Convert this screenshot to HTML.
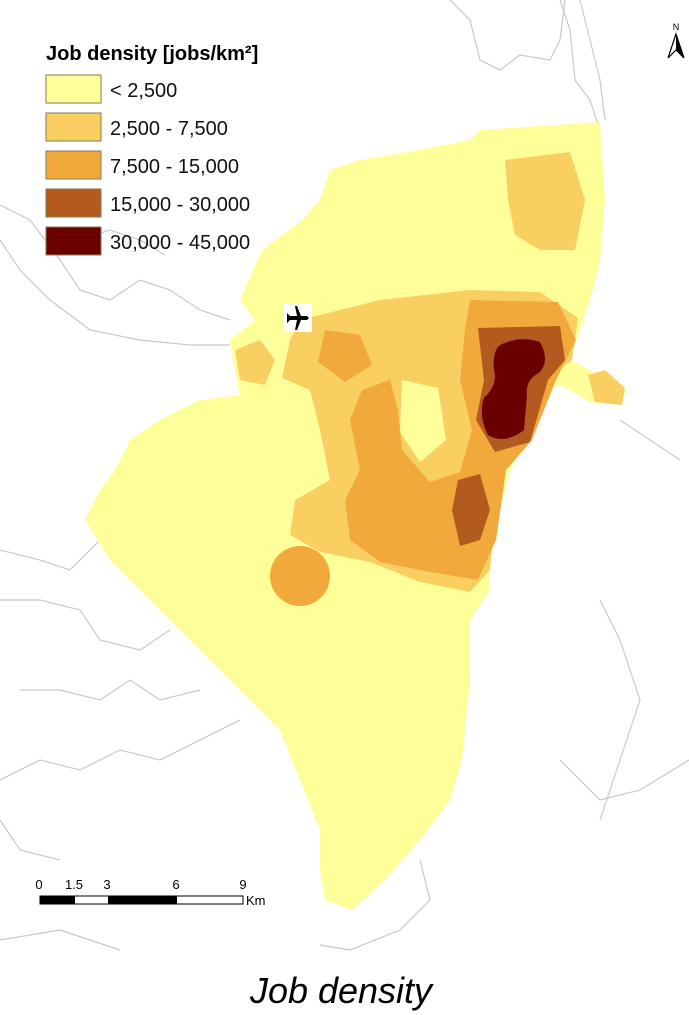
<!DOCTYPE html>
<html><head><meta charset="utf-8"><style>
body{margin:0;background:#fff;}
svg{display:block;font-family:"Liberation Sans",Arial,sans-serif;}
</style></head><body>
<svg width="689" height="1015" viewBox="0 0 689 1015">
<g fill="none" stroke="#c8c8c8" stroke-width="1.2">
<polyline points="450,0 470,20 480,60 500,70 520,55 550,60 560,40 565,0"/>
<polyline points="560,0 570,30 575,80 590,100 600,130"/>
<polyline points="580,0 590,40 600,80 605,120"/>
<polyline points="0,205 30,220 60,260 80,290 110,300 140,280 170,290 200,310 230,320"/>
<polyline points="0,240 20,270 50,300 90,330 140,340 190,345 230,345"/>
<polyline points="80,240 110,230 140,240 165,255"/>
<polyline points="0,550 40,560 70,570 100,540"/>
<polyline points="0,600 40,600 80,610 100,640 140,650 170,630"/>
<polyline points="20,690 60,690 100,700 130,680 160,700 200,690"/>
<polyline points="0,780 40,760 80,770 120,750 160,760 200,740 240,720"/>
<polyline points="0,820 20,850 60,860"/>
<polyline points="620,420 650,440 680,460"/>
<polyline points="600,600 620,640 640,700 620,760 600,820"/>
<polyline points="560,760 600,800 640,790 689,760"/>
<polyline points="420,860 430,900 400,930 350,950 320,945"/>
<polyline points="0,940 60,930 120,950"/>
</g>
<g>
<polygon fill="#ffff99" points="480,130 600,122 605,200 600,260 590,300 580,330 570,360 590,370 600,378 625,390 622,405 590,402 560,385 540,392 525,440 510,470 500,510 490,560 490,590 470,620 470,680 462,760 450,800 420,840 385,880 352,910 325,900 320,870 320,830 300,780 280,730 240,690 190,640 150,600 110,560 85,520 100,490 115,470 130,440 160,420 200,400 240,395 235,370 230,340 255,320 240,300 262,250 300,222 320,200 330,170 360,160 420,150 470,140"/>
<polygon fill="#f9cf62" points="505,160 570,152 585,200 575,250 540,250 515,235 508,200"/>
<polygon fill="#f9cf62" points="235,350 260,340 275,360 265,385 240,380"/>
<polygon fill="#f9cf62" points="588,375 605,370 625,388 622,405 595,402"/>
<path fill="#f9cf62" fill-rule="evenodd" d="M300,320 L380,300 L470,290 L540,292 L578,318 L572,360 L545,380 L530,440 L505,470 L495,520 L490,570 L470,592 L420,582 L370,562 L320,552 L290,535 L295,500 L330,480 L320,430 L310,390 L282,378 L290,340 Z M402,380 L438,388 L446,440 L420,462 L400,432 Z"/>
<polygon fill="#f2a93c" points="325,330 360,335 372,365 345,382 318,362"/>
<polygon fill="#f2a93c" points="470,300 558,302 576,340 556,380 532,440 506,470 496,540 478,580 430,572 380,562 350,540 345,500 360,470 350,420 362,390 390,380 398,410 402,450 430,482 460,472 472,430 460,380 465,330"/>
<circle fill="#f2a93c" cx="300" cy="576" r="30"/>
<polygon fill="#b35a1f" points="478,328 560,326 565,360 548,380 530,442 495,452 476,420 484,380"/>
<polygon fill="#b35a1f" points="458,480 480,474 490,510 480,540 460,546 452,510"/>
<path fill="#6b0000" d="M500,345 Q520,335 540,342 Q550,360 540,372 Q525,380 527,395 L524,430 Q505,445 488,435 Q478,415 484,398 Q498,385 494,370 Q492,352 500,345 Z"/>
</g>
<g>
<rect x="284" y="304" width="28" height="28" fill="#fff"/>
<path d="M298,307 L300,309 L300,315 L310,319 L310,321 L300,319 L300,326 L303,329 L293,329 L296,326 L296,319 L286,321 L286,319 L296,315 L296,309 Z" fill="#000" transform="rotate(90 298 318)"/>
</g>
<g>
<text x="676" y="30" font-size="9" text-anchor="middle">N</text>
<polygon points="676,34 668,58 676,50 684,58" fill="#fff" stroke="#000" stroke-width="1.2"/>
<polygon points="676,34 676,50 684,58" fill="#000"/>
</g>
<g>
<text x="46" y="60" font-size="20" font-weight="bold">Job density [jobs/km²]</text>
<g stroke="#8a7a50" stroke-width="1">
<rect x="46" y="75" width="55" height="28" fill="#ffff99"/>
<rect x="46" y="113" width="55" height="28" fill="#f9cf62"/>
<rect x="46" y="151" width="55" height="28" fill="#f2a93c"/>
<rect x="46" y="189" width="55" height="28" fill="#b35a1f"/>
<rect x="46" y="227" width="55" height="28" fill="#6b0000"/>
</g>
<g font-size="20" fill="#111">
<text x="110" y="97">&lt; 2,500</text>
<text x="110" y="135">2,500 - 7,500</text>
<text x="110" y="173">7,500 - 15,000</text>
<text x="110" y="211">15,000 - 30,000</text>
<text x="110" y="249">30,000 - 45,000</text>
</g>
</g>
<g font-size="13">
<text x="39" y="889" text-anchor="middle">0</text>
<text x="74" y="889" text-anchor="middle">1.5</text>
<text x="107" y="889" text-anchor="middle">3</text>
<text x="176" y="889" text-anchor="middle">6</text>
<text x="243" y="889" text-anchor="middle">9</text>
<rect x="40" y="896" width="203" height="8" fill="#fff" stroke="#000" stroke-width="1"/>
<rect x="40" y="896" width="35" height="8" fill="#000"/>
<rect x="108" y="896" width="69" height="8" fill="#000"/>
<text x="246" y="905">Km</text>
</g>
<text x="341" y="1003" font-size="36" font-style="italic" text-anchor="middle">Job density</text>
</svg>
</body></html>
